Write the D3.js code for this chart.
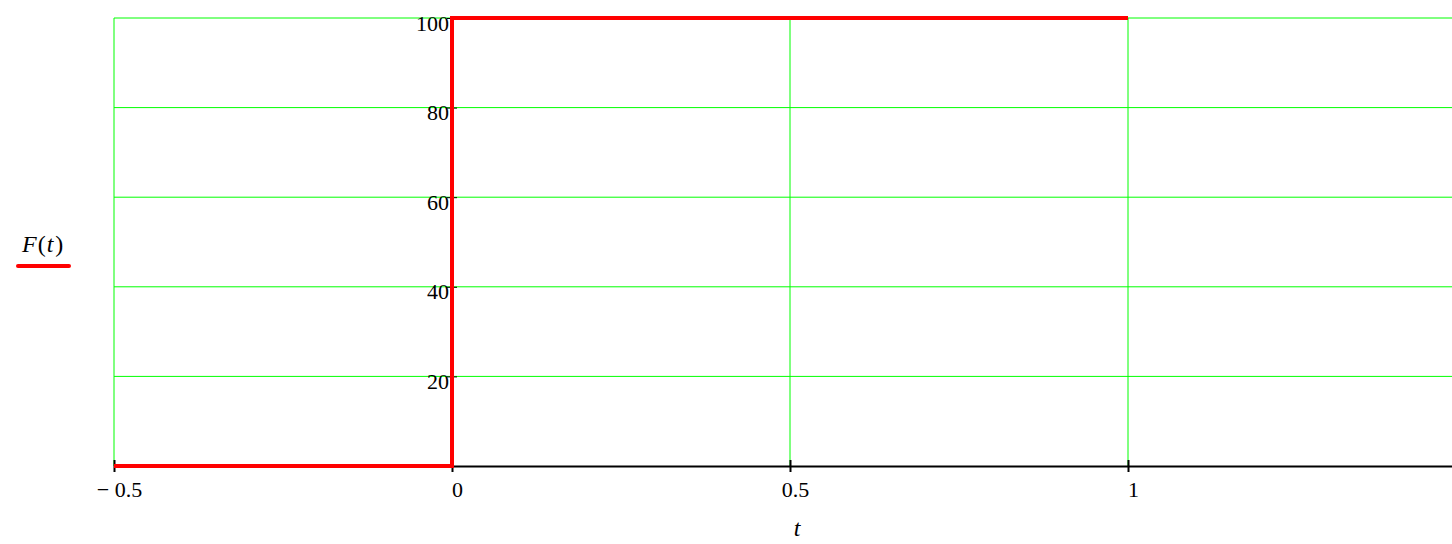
<!DOCTYPE html>
<html>
<head>
<meta charset="utf-8">
<script src="https://cdn.jsdelivr.net/npm/d3@7"></script>
<style>
  body { margin: 0; background: #fff; }
  svg { display: block; }
  svg text { font-family: "Times New Roman", "Liberation Serif", "DejaVu Serif", serif; }
</style>
</head>
<body>
<div id="holder"></div>
<script>
// step function F(t), sampled at its corners
const tValues = [-0.5, 0, 0, 1];
const fValues = [0, 0, 100, 100];
const xTicks = [-0.5, 0, 0.5, 1];
const xTickLabels = ["\u2212 0.5", "0", "0.5", "1"];
const yTicks = [20, 40, 60, 80, 100];
const xGridValues = [-0.5, 0.5, 1, 1.5];

const width = 1452;
const height = 544;
const serif = "'Times New Roman', 'Liberation Serif', serif";

const xScale = d3.scaleLinear().domain([-0.5, 1.5]).range([114, 1466]);
const yScale = d3.scaleLinear().domain([0, 100]).range([466, 18]);

const svg = d3.select("#holder")
    .append("svg")
    .attr("width", width)
    .attr("height", height);

// grid
svg.append("g")
    .selectAll("line")
    .data(yTicks)
    .enter()
    .append("line")
    .attr("x1", xScale(-0.5))
    .attr("x2", xScale(1.5))
    .attr("y1", (d) => yScale(d))
    .attr("y2", (d) => yScale(d))
    .attr("stroke", "#00ff00")
    .attr("stroke-width", 1);

svg.append("g")
    .selectAll("line")
    .data(xGridValues)
    .enter()
    .append("line")
    .attr("x1", (d) => xScale(d))
    .attr("x2", (d) => xScale(d))
    .attr("y1", yScale(100))
    .attr("y2", yScale(0))
    .attr("stroke", "#00ff00")
    .attr("stroke-width", 1);

// x axis
const xAxis = d3.axisBottom(xScale)
    .tickValues(xTicks)
    .tickSizeInner(6)
    .tickSizeOuter(0)
    .tickFormat((d, i) => xTickLabels[i]);

const gx = svg.append("g")
    .attr("transform", `translate(0, ${yScale(0)})`)
    .call(xAxis)
    .attr("font-family", serif)
    .attr("font-size", 22);
gx.select(".domain").attr("stroke", "#000").attr("stroke-width", 2);
gx.selectAll(".tick line")
    .attr("y1", -6)
    .attr("y2", 6)
    .attr("stroke", "#000")
    .attr("stroke-width", 2);
gx.selectAll(".tick text")
    .attr("y", 31)
    .attr("dy", 0)
    .attr("dx", 5)
    .attr("fill", "#000");

// y axis
const yAxis = d3.axisLeft(yScale)
    .tickValues(yTicks)
    .tickSizeInner(5)
    .tickSizeOuter(0);

const gy = svg.append("g")
    .attr("transform", `translate(${xScale(0)}, 0)`)
    .call(yAxis)
    .attr("font-family", serif)
    .attr("font-size", 22);
gy.select(".domain").remove();
gy.selectAll(".tick line")
    .attr("x1", -5)
    .attr("x2", 5)
    .attr("stroke", "#000")
    .attr("stroke-width", 1);
gy.selectAll(".tick text")
    .attr("x", -3)
    .attr("dy", 12)
    .attr("fill", "#000");

// F(t)
const line = d3.line()
    .x((d, i) => xScale(tValues[i]))
    .y((d) => yScale(d));

svg.append("path")
    .datum(fValues)
    .attr("d", line)
    .attr("fill", "none")
    .attr("stroke", "#ff0000")
    .attr("stroke-width", 4);

// axis title
svg.append("text")
    .attr("x", 797)
    .attr("y", 536)
    .attr("text-anchor", "middle")
    .attr("font-family", serif)
    .attr("font-size", 24)
    .style("font-style", "italic")
    .text("t");

// legend
const legend = svg.append("text")
    .attr("x", 22)
    .attr("y", 252)
    .attr("font-family", serif)
    .attr("font-size", 24);
legend.append("tspan").style("font-style", "italic").text("F");
legend.append("tspan").attr("dx", 1).text("(");
legend.append("tspan").attr("dx", 1).style("font-style", "italic").text("t");
legend.append("tspan").attr("dx", 2).text(")");

svg.append("line")
    .attr("x1", 18)
    .attr("x2", 69)
    .attr("y1", 266)
    .attr("y2", 266)
    .attr("stroke", "#ff0000")
    .attr("stroke-width", 4)
    .attr("stroke-linecap", "round");
</script>
</body>
</html>
